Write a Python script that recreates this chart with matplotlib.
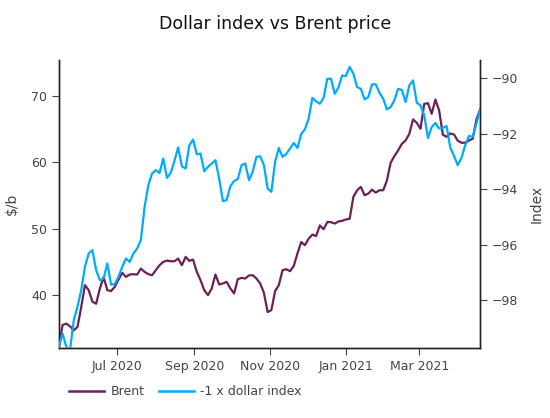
import matplotlib
matplotlib.use("Agg")
import matplotlib.dates as mdates
import pandas as pd
from matplotlib import pyplot as plt
from matplotlib.lines import Line2D

# readings every 3 days from 15 May 2020
start_date = "2020-05-15"

brent = [
    32.2, 35.5, 35.7, 35.3, 34.7, 35.2, 38.2, 41.5, 40.75, 39.0,
    38.7, 41.0, 42.7, 40.75, 40.6, 41.25, 42.35, 43.35, 42.75, 43.1,
    43.15, 43.1, 44.0, 43.5, 43.15, 43.0, 43.75, 44.5, 45.0, 45.2,
    45.1, 45.1, 45.5, 44.5, 45.76, 45.16, 45.36, 43.5, 42.25, 40.75,
    40.0, 41.0, 43.1, 41.6, 41.75, 42.0, 41.0, 40.25, 42.4, 42.6,
    42.5, 42.96, 43.0, 42.5, 41.75, 40.35, 37.45, 37.74, 40.6, 41.5,
    43.76, 43.9, 43.6, 44.4, 46.27, 48.0, 47.52, 48.5, 49.12, 48.9,
    50.5, 49.93, 51.0, 51.0, 50.78, 51.1, 51.2, 51.4, 51.5, 54.8,
    55.8, 56.3, 55.04, 55.3, 55.9, 55.44, 55.8, 55.8, 57.29, 59.95,
    60.95, 61.8, 62.8, 63.3, 64.3, 66.47, 65.96, 65.06, 68.82, 68.92,
    67.32, 69.47, 67.82, 64.16, 63.86, 64.36, 64.2, 63.26, 62.96, 62.96,
    63.3, 63.56, 66.47, 68.0,
]

neg_dollar = [
    -99.68, -99.2, -99.68, -99.8, -98.72, -98.24, -97.64, -96.8, -96.32, -96.2,
    -96.92, -97.28, -97.22, -96.68, -97.44, -97.42, -97.16, -96.8, -96.5, -96.62,
    -96.32, -96.14, -95.84, -94.64, -93.86, -93.44, -93.32, -93.42, -92.9, -93.6,
    -93.42, -92.99, -92.5, -93.18, -93.26, -92.42, -92.22, -92.75, -92.72, -93.36,
    -93.2, -93.08, -92.96, -93.62, -94.43, -94.4, -93.9, -93.71, -93.64, -93.14,
    -93.08, -93.68, -93.38, -92.84, -92.82, -93.14, -93.98, -94.1, -93.02, -92.52,
    -92.84, -92.74, -92.54, -92.34, -92.52, -92.02, -91.85, -91.47, -90.72, -90.84,
    -90.93, -90.72, -90.03, -90.03, -90.57, -90.34, -89.91, -89.93, -89.6, -89.85,
    -90.33, -90.39, -90.77, -90.69, -90.23, -90.23, -90.53, -90.75, -91.13, -91.05,
    -90.8, -90.39, -90.43, -90.87, -90.27, -90.09, -90.89, -90.99, -91.35, -92.16,
    -91.77, -91.62, -91.82, -91.8, -91.73, -92.51, -92.81, -93.14, -92.87, -92.42,
    -92.09, -92.12, -91.64, -91.15,
]

dates = pd.date_range(start_date, periods=len(brent), freq="3D")

tick_dates = pd.to_datetime(["2020-07-01", "2020-09-01", "2020-11-01", "2021-01-01", "2021-03-01"])
tick_labels = ["Jul 2020", "Sep 2020", "Nov 2020", "Jan 2021", "Mar 2021"]

brent_color = "#6b2158"
dollar_color = "#00aaff"
text_color = "#444444"

plt.rcParams["font.family"] = ["DejaVu Sans"]

fig = plt.figure(figsize=(5.5, 4.18), dpi=100)
ax = fig.add_axes([0.107, 0.167, 0.766, 0.689])
ax2 = ax.twinx()

ax.plot(dates, brent, color=brent_color, lw=1.6, zorder=3)
ax2.plot(dates, neg_dollar, color=dollar_color, lw=1.6, zorder=3)

ax.set_xlim(pd.Timestamp("2020-05-15"), pd.Timestamp("2021-04-19"))
ax.set_ylim(32.0, 75.4)
ax2.set_ylim(-99.73, -89.36)

ax.set_yticks([40, 50, 60, 70])
ax2.set_yticks([-98, -96, -94, -92, -90])
ax.set_xticks(tick_dates)
ax.set_xticklabels(tick_labels)

for a in (ax, ax2):
    a.spines["top"].set_visible(False)
    for s in ("left", "right", "bottom"):
        a.spines[s].set_color("#222222")
        a.spines[s].set_linewidth(1.0)
    a.tick_params(colors="#444444", labelcolor=text_color, labelsize=9, length=5, width=0.8)

ax.set_ylabel("$/b", fontsize=10, color=text_color, labelpad=9)
ax2.set_ylabel("Index", fontsize=10, color=text_color, labelpad=8)

fig.suptitle("Dollar index vs Brent price", fontsize=12.5, x=0.5, y=0.965, color="#111111")

handles = [Line2D([], [], color=brent_color, lw=1.8), Line2D([], [], color=dollar_color, lw=1.8)]
fig.legend(handles, ["Brent", "-1 x dollar index"], loc="center left", bbox_to_anchor=(0.105, 0.063),
           ncol=2, frameon=False, fontsize=9, handlelength=2.8, columnspacing=1.2,
           handletextpad=0.5, labelcolor=text_color)

fig.savefig("out.png", dpi=100)
